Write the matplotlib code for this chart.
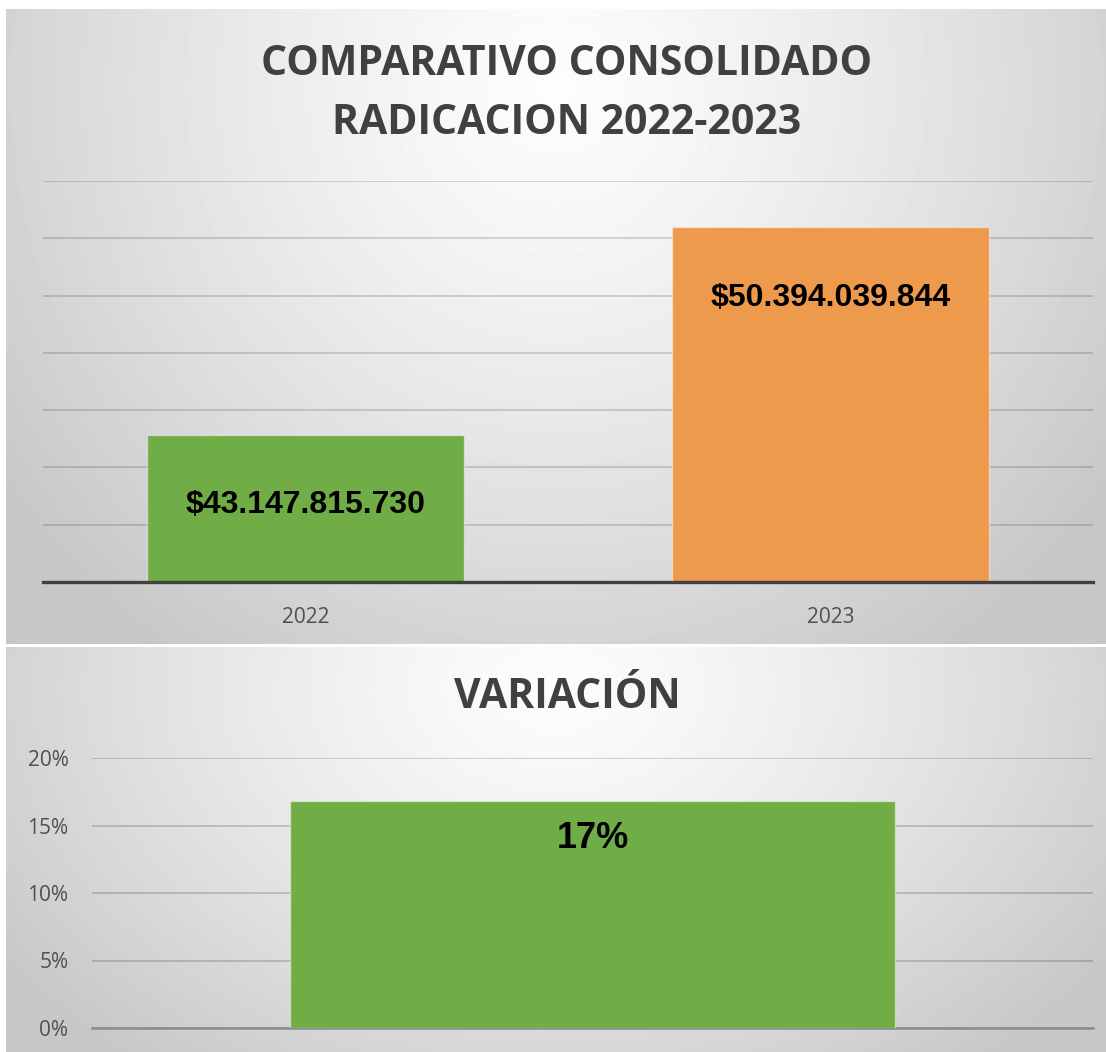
import matplotlib.pyplot as plt
import numpy as np

# datos
years = ['2022', '2023']
radicacion = [43147815730, 50394039844]
variacion_cat = ['']
variacion = [0.168]
variacion_text = ['17%']

W, H = 1106, 1052


def fig_rect(x0, y0, x1, y1):
    # pixel box (top-left origin) -> figure fraction
    return [x0 / W, (H - y1) / H, (x1 - x0) / W, (y1 - y0) / H]


def gradient_bg(fig, rect, cy=0.12, ry=1.1, rx=0.62, lo=0.78, hi=0.99):
    ax = fig.add_axes(rect, zorder=0)
    h, w = 200, 300
    u = np.linspace(0, 1, w)[None, :]
    v = np.linspace(0, 1, h)[:, None]
    d = np.sqrt(((u - 0.5) / rx) ** 2 + ((v - cy) / ry) ** 2)
    d = np.clip(d, 0, 1)
    val = hi - (hi - lo) * d ** 1.3
    ax.imshow(val, cmap='gray', vmin=0, vmax=1, aspect='auto',
              extent=(0, 1, 1, 0), interpolation='bilinear')
    ax.set_axis_off()
    return ax


fig = plt.figure(figsize=(W / 100, H / 100), dpi=100)
fig.patch.set_facecolor('white')

title_font = 'Open Sans'
text_grey = '#404040'
tick_grey = '#505050'

# ---------- panel superior ----------
gradient_bg(fig, fig_rect(6, 9, 1106, 644))
fig.text(567 / W, 1 - 94 / H, 'COMPARATIVO CONSOLIDADO\nRADICACION 2022-2023',
         ha='center', va='center', fontsize=29.5, fontweight='bold',
         family=title_font, color=text_grey, linespacing=1.55, zorder=5)

ax1 = fig.add_axes(fig_rect(43, 181, 1093, 582), zorder=2)
ax1.patch.set_alpha(0)
x = np.arange(len(years))
ax1.bar(x, radicacion, width=0.604, color=['#70AD47', '#ED9A4C'],
        edgecolor=(1, 1, 1, 0.45), linewidth=1, zorder=3)
ax1.set_xlim(-0.5, len(years) - 0.5)
ax1.set_ylim(38e9, 52e9)
ax1.set_yticks(np.arange(40e9, 52.1e9, 2e9))
ax1.yaxis.grid(True, color='black', alpha=0.15, linewidth=1.4)
ax1.set_axisbelow(True)
ax1.tick_params(axis='y', length=0, labelleft=False)
ax1.set_xticks(x)
ax1.set_xticklabels(years, family=title_font, fontsize=15, color=tick_grey)
ax1.tick_params(axis='x', length=0, pad=18)
for s in ['left', 'right', 'top']:
    ax1.spines[s].set_visible(False)
ax1.spines['bottom'].set_color('#404040')
ax1.spines['bottom'].set_linewidth(2.4)
ax1.spines['bottom'].set_zorder(4)
for xi, v in zip(x, radicacion):
    lab = '$' + f'{v:,.0f}'.replace(',', '.')
    ax1.annotate(lab, (xi, v), xytext=(0, -51), textcoords='offset points',
                 ha='center', va='center', fontsize=23, fontweight='bold',
                 family='Liberation Sans', color='black', zorder=5)

# ---------- panel inferior ----------
gradient_bg(fig, fig_rect(6, 647, 1106, 1052), cy=0.1, ry=1.2)
fig.text(567 / W, 1 - 697 / H, 'VARIACIÓN', ha='center', va='center',
         fontsize=29.5, fontweight='bold', family=title_font, color=text_grey,
         zorder=5)

ax2 = fig.add_axes(fig_rect(92, 758, 1093, 1028), zorder=2)
ax2.patch.set_alpha(0)
x2 = np.arange(len(variacion))
ax2.bar(x2, variacion, width=0.604, color='#70AD47',
        edgecolor=(1, 1, 1, 0.45), linewidth=1, zorder=3)
ax2.set_xlim(-0.5, len(variacion) - 0.5)
ax2.set_ylim(0, 0.20)
ax2.set_yticks([0, 0.05, 0.10, 0.15, 0.20])
ax2.set_yticklabels(['0%', '5%', '10%', '15%', '20%'], family=title_font,
                    fontsize=15, color=tick_grey)
ax2.tick_params(axis='y', length=0, pad=17)
ax2.set_xticks([])
ax2.yaxis.grid(True, color='black', alpha=0.17, linewidth=1.4)
ax2.set_axisbelow(True)
for s in ['left', 'right', 'top']:
    ax2.spines[s].set_visible(False)
ax2.spines['bottom'].set_color('#8c8c8c')
ax2.spines['bottom'].set_linewidth(1.8)
for xi, v, t in zip(x2, variacion, variacion_text):
    ax2.annotate(t, (xi, v), xytext=(0, -27), textcoords='offset points',
                 ha='center', va='center', fontsize=26, fontweight='bold',
                 family='Liberation Sans', color='black', zorder=5)

fig.savefig('out.png', dpi=100, facecolor='white')
